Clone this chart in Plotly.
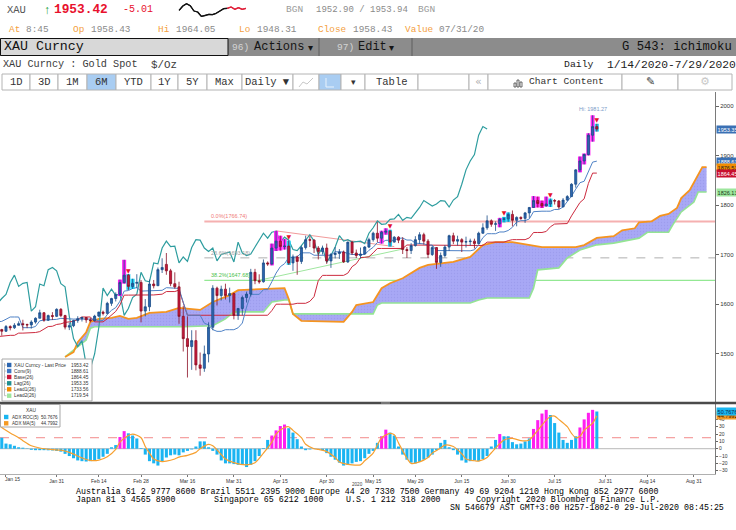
import plotly.graph_objects as go
import pandas as pd

W, H = 736, 530
MONO = "Liberation Mono, DejaVu Sans Mono, monospace"
SANS = "Liberation Sans, Arial, sans-serif"
DEJ = "DejaVu Sans, sans-serif"


def px(x):
    return x / W


def py(y):
    return 1 - y / H


# ---------------- DATA: XAU Curncy daily OHLC (Dec-09-2019 .. Jul-29-2020) ----------------
OHLC_START, OHLC_END = "2019-12-09", "2020-07-29"
open_ = [
    1460.5, 1462.4, 1464.5, 1474.9, 1469.9, 1475.9, 1476.3, 1475.9, 1474.6, 1478.9,
    1478.5, 1486.9, 1498.6, 1499.3, 1511.5, 1510.6, 1514.6, 1517.3, 1518.4, 1528.9,
    1552.4, 1566.2, 1574.3, 1556.2, 1553.3, 1562.3, 1548.4, 1545.0, 1554.4, 1552.0,
    1557.0, 1560.2, 1558.4, 1557.8, 1563.5, 1571.2, 1582.3, 1567.4, 1576.6, 1575.0,
    1589.2, 1576.6, 1553.3, 1556.1, 1566.6, 1570.3, 1572.7, 1568.0, 1566.4, 1575.5,
    1583.6, 1581.1, 1601.3, 1611.1, 1619.4, 1643.3, 1658.3, 1635.5, 1641.8, 1643.6,
    1585.7, 1594.4, 1640.4, 1636.9, 1669.4, 1680.0, 1667.0, 1641.0, 1634.6, 1575.0,
    1530.0, 1514.0, 1526.0, 1477.0, 1470.0, 1499.0, 1553.0, 1632.0, 1617.0, 1630.0,
    1617.0, 1621.0, 1577.0, 1591.0, 1613.0, 1620.0, 1664.0, 1647.0, 1645.0, 1683.0,
    1681.0, 1713.0, 1727.0, 1716.0, 1717.0, 1683.0, 1695.0, 1686.0, 1714.0, 1730.0,
    1729.0, 1713.0, 1706.0, 1713.0, 1687.0, 1700.0, 1702.0, 1705.0, 1685.0, 1725.0,
    1703.0, 1698.0, 1701.0, 1715.0, 1730.0, 1743.0, 1733.0, 1745.0, 1747.0, 1725.0,
    1735.0, 1729.0, 1710.0, 1708.0, 1718.0, 1730.0, 1740.0, 1727.0, 1700.0, 1714.0,
    1684.0, 1698.0, 1715.0, 1738.0, 1727.0, 1730.0, 1725.0, 1726.0, 1727.0, 1722.0,
    1743.0, 1754.0, 1768.0, 1761.0, 1762.0, 1771.0, 1772.0, 1781.0, 1769.0, 1775.0,
    1773.0, 1784.0, 1795.0, 1809.0, 1803.0, 1798.0, 1802.0, 1809.0, 1808.0, 1796.0,
    1810.0, 1817.0, 1842.0, 1871.0, 1889.0, 1902.0, 1941.0, 1958.43,
]
high = [
    1464.9, 1467.8, 1476.3, 1478.2, 1479.7, 1478.4, 1480.8, 1479.1, 1481.5, 1481.5,
    1488.0, 1499.4, 1500.6, 1513.2, 1514.9, 1516.3, 1523.3, 1519.7, 1530.6, 1553.4,
    1582.4, 1576.4, 1611.4, 1561.8, 1563.2, 1562.8, 1549.8, 1557.5, 1557.0, 1561.3,
    1565.0, 1568.2, 1560.4, 1567.1, 1573.1, 1588.4, 1583.5, 1578.6, 1583.5, 1591.3,
    1591.7, 1578.2, 1562.5, 1568.2, 1575.3, 1574.4, 1573.7, 1571.5, 1578.2, 1584.4,
    1586.6, 1604.4, 1612.5, 1623.5, 1649.3, 1689.3, 1660.5, 1651.0, 1660.2, 1648.4,
    1610.0, 1649.3, 1648.5, 1673.7, 1692.3, 1703.0, 1671.0, 1664.0, 1645.0, 1596.0,
    1575.0, 1547.0, 1547.0, 1502.0, 1516.0, 1563.0, 1638.0, 1635.0, 1637.0, 1641.0,
    1633.0, 1623.0, 1592.0, 1617.0, 1625.0, 1671.0, 1671.0, 1660.0, 1690.0, 1686.0,
    1722.0, 1747.7, 1738.0, 1731.0, 1728.0, 1700.0, 1698.0, 1718.0, 1738.0, 1737.0,
    1731.0, 1717.0, 1718.0, 1722.0, 1703.0, 1715.0, 1711.0, 1708.0, 1726.0, 1727.0,
    1710.0, 1714.0, 1717.0, 1734.0, 1746.0, 1765.4, 1748.0, 1753.0, 1750.0, 1737.0,
    1737.0, 1735.0, 1715.0, 1723.0, 1737.0, 1745.0, 1744.0, 1731.0, 1718.0, 1715.0,
    1704.0, 1719.0, 1740.0, 1744.0, 1738.0, 1733.0, 1736.0, 1732.0, 1732.0, 1746.0,
    1763.0, 1779.0, 1771.0, 1767.0, 1774.0, 1776.0, 1785.0, 1789.0, 1777.0, 1777.0,
    1786.0, 1796.0, 1818.0, 1817.0, 1809.0, 1817.0, 1813.0, 1812.0, 1810.0, 1814.0,
    1820.0, 1844.0, 1872.0, 1898.0, 1904.0, 1945.0, 1981.27, 1964.05,
]
low = [
    1456.9, 1459.4, 1460.5, 1462.7, 1462.0, 1472.4, 1473.1, 1472.1, 1470.9, 1473.4,
    1477.0, 1485.9, 1497.5, 1498.6, 1505.9, 1508.3, 1514.3, 1516.4, 1518.4, 1526.9,
    1551.8, 1557.3, 1553.7, 1540.1, 1549.4, 1545.1, 1536.1, 1543.6, 1546.7, 1549.6,
    1556.4, 1546.6, 1551.2, 1550.4, 1560.3, 1571.2, 1564.0, 1565.7, 1567.7, 1573.6,
    1573.6, 1548.6, 1547.3, 1553.1, 1562.0, 1564.6, 1562.0, 1562.8, 1565.0, 1573.4,
    1576.9, 1578.9, 1596.2, 1605.1, 1616.1, 1641.1, 1628.5, 1630.5, 1631.9, 1562.9,
    1575.0, 1585.4, 1631.5, 1636.4, 1662.6, 1659.0, 1636.0, 1631.0, 1560.0, 1504.0,
    1451.5, 1467.0, 1466.0, 1455.1, 1463.0, 1482.0, 1547.0, 1597.0, 1607.0, 1609.0,
    1603.0, 1569.0, 1568.0, 1577.0, 1603.0, 1615.0, 1640.0, 1641.0, 1643.0, 1677.0,
    1678.0, 1707.0, 1708.0, 1710.0, 1679.0, 1667.0, 1659.0, 1681.0, 1710.0, 1715.0,
    1703.0, 1690.0, 1700.0, 1681.0, 1673.0, 1692.0, 1691.0, 1683.0, 1683.0, 1699.0,
    1693.0, 1692.0, 1700.0, 1713.0, 1726.0, 1725.0, 1722.0, 1740.0, 1716.0, 1724.0,
    1723.0, 1701.0, 1693.0, 1701.0, 1716.0, 1722.0, 1720.0, 1693.0, 1697.0, 1670.99,
    1675.0, 1694.0, 1707.0, 1721.0, 1718.0, 1705.0, 1714.0, 1718.0, 1712.0, 1721.0,
    1742.0, 1750.0, 1756.0, 1747.63, 1755.0, 1765.0, 1766.0, 1757.0, 1757.0, 1770.0,
    1764.0, 1774.0, 1794.0, 1795.0, 1794.0, 1797.0, 1796.0, 1801.0, 1792.0, 1795.95,
    1808.0, 1816.0, 1835.0, 1866.0, 1882.0, 1900.0, 1928.0, 1948.31,
]
close = [
    1462.4, 1464.5, 1474.9, 1469.9, 1475.9, 1476.3, 1475.9, 1474.6, 1478.9, 1478.5,
    1486.9, 1498.6, 1499.3, 1511.5, 1510.6, 1514.6, 1517.3, 1518.4, 1528.9, 1552.4,
    1566.2, 1574.3, 1556.2, 1553.3, 1562.3, 1548.4, 1545.0, 1554.4, 1552.0, 1557.0,
    1560.2, 1558.4, 1557.8, 1563.5, 1571.2, 1582.3, 1567.4, 1576.6, 1575.0, 1589.2,
    1576.6, 1553.3, 1556.1, 1566.6, 1570.3, 1572.7, 1568.0, 1566.4, 1575.5, 1583.6,
    1581.1, 1601.3, 1611.1, 1619.4, 1643.3, 1658.3, 1635.5, 1641.8, 1643.6, 1585.7,
    1594.4, 1640.4, 1636.9, 1669.4, 1673.8, 1667.0, 1641.0, 1634.6, 1575.0, 1530.0,
    1514.0, 1526.0, 1477.0, 1470.0, 1499.0, 1553.0, 1632.0, 1617.0, 1630.0, 1617.0,
    1621.0, 1577.0, 1591.0, 1613.0, 1620.0, 1664.0, 1647.0, 1645.0, 1683.0, 1681.0,
    1713.0, 1727.0, 1716.0, 1717.0, 1683.0, 1695.0, 1686.0, 1714.0, 1730.0, 1729.0,
    1713.0, 1706.0, 1713.0, 1687.0, 1700.0, 1702.0, 1705.0, 1685.0, 1725.0, 1703.0,
    1698.0, 1701.0, 1715.0, 1730.0, 1743.0, 1733.0, 1745.0, 1747.0, 1725.0, 1735.0,
    1729.0, 1710.0, 1708.0, 1718.0, 1730.0, 1740.0, 1727.0, 1700.0, 1714.0, 1684.0,
    1698.0, 1715.0, 1738.0, 1727.0, 1730.0, 1725.0, 1726.0, 1727.0, 1722.0, 1743.0,
    1754.0, 1768.0, 1761.0, 1762.0, 1771.0, 1772.0, 1781.0, 1769.0, 1775.0, 1773.0,
    1784.0, 1795.0, 1809.0, 1803.0, 1798.0, 1802.0, 1809.0, 1808.0, 1796.0, 1810.0,
    1817.0, 1842.0, 1871.0, 1889.0, 1902.0, 1941.0, 1958.43, 1953.42,
]

# highlighted candles / sell marks
hl_magenta = ["2020-02-21", "2020-02-24", "2020-04-13", "2020-04-14", "2020-04-15", "2020-04-16",
              "2020-05-19", "2020-05-20", "2020-06-26", "2020-07-08", "2020-07-09", "2020-07-10",
              "2020-07-13", "2020-07-23", "2020-07-24", "2020-07-27", "2020-07-28"]
hl_cyan = ["2020-02-25", "2020-02-26", "2020-04-17", "2020-05-21", "2020-06-29", "2020-06-30",
           "2020-07-14", "2020-07-29"]
sell_marks = ["2020-02-25", "2020-04-17", "2020-05-21", "2020-06-29", "2020-07-14", "2020-07-29"]

# Ichimoku cloud (Lead1 / Lead2)
lead1_dates = ["2020-02-04", "2020-02-06", "2020-02-07", "2020-02-11", "2020-02-12", "2020-02-14",
               "2020-02-19", "2020-02-21", "2020-02-25", "2020-02-27", "2020-03-03", "2020-03-09",
               "2020-03-12", "2020-03-19", "2020-03-24", "2020-03-30", "2020-04-01", "2020-04-16",
               "2020-04-17", "2020-04-20", "2020-04-22", "2020-05-06", "2020-05-08", "2020-05-11",
               "2020-05-15", "2020-05-19", "2020-05-21", "2020-05-26", "2020-06-01", "2020-06-03",
               "2020-06-11", "2020-06-17", "2020-06-22", "2020-06-25", "2020-07-01", "2020-07-07",
               "2020-07-10", "2020-07-22", "2020-07-24", "2020-07-29", "2020-07-31", "2020-08-04",
               "2020-08-06", "2020-08-11", "2020-08-12", "2020-08-17", "2020-08-19", "2020-08-21",
               "2020-08-25", "2020-08-26", "2020-08-28", "2020-09-01", "2020-09-02", "2020-09-03"]
lead1_vals = [1493, 1503, 1523, 1543, 1564, 1570, 1572, 1576, 1570, 1572,
              1582, 1584, 1592, 1588, 1604, 1618, 1628, 1632, 1610, 1580,
              1566, 1564, 1584, 1598, 1604, 1632, 1642, 1652, 1673, 1679,
              1685, 1695, 1719, 1725, 1725, 1719, 1715, 1715, 1719, 1733.56,
              1735, 1737, 1749, 1753, 1765, 1767, 1778, 1782, 1794, 1814,
              1830, 1861, 1876.53, 1876.53]
lead2_dates = ["2020-02-04", "2020-02-06", "2020-02-11", "2020-02-12", "2020-02-13", "2020-03-13",
               "2020-03-24", "2020-03-27", "2020-03-31", "2020-04-09", "2020-04-13", "2020-04-16",
               "2020-04-17", "2020-04-20", "2020-05-15", "2020-05-18", "2020-05-19", "2020-06-17",
               "2020-06-19", "2020-06-23", "2020-07-07", "2020-07-08", "2020-07-09", "2020-07-16",
               "2020-07-20", "2020-07-23", "2020-07-29", "2020-08-04", "2020-08-12", "2020-08-14",
               "2020-08-21", "2020-08-24", "2020-08-26", "2020-08-31", "2020-09-01", "2020-09-03"]
lead2_vals = [1493, 1507, 1527, 1551, 1554, 1554, 1556, 1570, 1584, 1584,
              1604, 1608, 1608, 1580, 1580, 1598, 1602, 1602, 1608, 1612,
              1612, 1632, 1669, 1673, 1693, 1709, 1719.54, 1723, 1733, 1745,
              1745, 1760, 1786, 1806, 1826.13, 1826.13]

# Fibonacci retracement and trend lines
fib_start = "2020-03-20"
fib_levels = [1766.74, 1693.18, 1647.68]
fib_labels = ["0.0%(1766.74)", "23.6%(1693.18)", "38.2%(1647.68)"]
trend_red_dates = ["2020-04-14", "2020-05-22"]
trend_red_vals = [1747.7, 1716.0]
trend_green_dates = ["2020-04-08", "2020-05-26"]
trend_green_vals = [1648.0, 1711.0]

# lower panel: ADX ROC(5) bars (Jan-14 .. Jul-29) and ADX MA(5)
ROC_START = "2020-01-14"
roc = [
    15, 7, 6, 4, 2, 1.4, 0.5, -1.5, -2, -2,
    -2, -2.2, -2.4, -3, -4, -7, -10, -13, -16, -17,
    -17.5, -17, -16, -14, -11, -7, 2, 5, 16, 24,
    21, 18, 14, 1, -8, -17, -20, -23, -17, -12,
    -9, -8, -9, -5, -3, -1, 3, 10, 10, 2,
    -3, -8, -16, -20, -20, -21, -22, -22, -25, -22,
    -17, -10, 1, 12, 18, 25, 31, 33, 28, 22,
    13, 3, -2, -1, 0.5, 0, -2, -6, -11, -15,
    -19, -23, -22, -20, -18, -17, -13, -7, -3, 8,
    17, 26, 22, 18, 3, -8, -15, -19, -20, -18,
    -15, -12, -8, -2, 8, 12, 2, -2, -8, -16,
    -19, -17, -16, -17, -14, -10, 3, 12, 20, 17,
    17, 9, 6, 7, 10, 14, 27, 39, 48, 53,
    46, 35, 22, 12, 8, 12, 17, 29, 40, 49,
    53, 50.7676,
]
roc_magenta = hl_magenta
roc_threshold = 15
ma_dates = ["2020-01-13", "2020-01-14", "2020-01-16", "2020-01-20", "2020-01-21", "2020-01-23",
            "2020-01-27", "2020-01-30", "2020-02-03", "2020-02-05", "2020-02-10", "2020-02-12",
            "2020-02-14", "2020-02-18", "2020-02-20", "2020-02-21", "2020-02-25", "2020-02-26",
            "2020-02-28", "2020-03-02", "2020-03-03", "2020-03-04", "2020-03-06", "2020-03-09",
            "2020-03-11", "2020-03-12", "2020-03-16", "2020-03-18", "2020-03-19", "2020-03-23",
            "2020-03-24", "2020-03-26", "2020-03-27", "2020-03-31", "2020-04-03", "2020-04-07",
            "2020-04-09", "2020-04-13", "2020-04-14", "2020-04-16", "2020-04-17", "2020-04-20",
            "2020-04-22", "2020-04-23", "2020-04-27", "2020-04-28", "2020-04-30", "2020-05-04",
            "2020-05-05", "2020-05-08", "2020-05-12", "2020-05-13", "2020-05-15", "2020-05-18",
            "2020-05-19", "2020-05-21", "2020-05-22", "2020-05-25", "2020-05-27", "2020-05-28",
            "2020-06-01", "2020-06-03", "2020-06-04", "2020-06-08", "2020-06-09", "2020-06-11",
            "2020-06-15", "2020-06-16", "2020-06-18", "2020-06-19", "2020-06-23", "2020-06-24",
            "2020-06-26", "2020-06-29", "2020-07-01", "2020-07-02", "2020-07-03", "2020-07-07",
            "2020-07-08", "2020-07-09", "2020-07-13", "2020-07-14", "2020-07-15", "2020-07-16",
            "2020-07-20", "2020-07-21", "2020-07-22", "2020-07-23", "2020-07-24", "2020-07-28",
            "2020-07-29"]
ma_vals = [34, 29, 21.5, 15, 11, 4, 1, -1.2, -2, -5,
           -12.5, -16, -15.5, -11, -1, 9, 18, 20, 15, 3,
           -6, -14, -17.5, -17, -14, -11.5, -9, -5, 0, 6,
           4, -8, -14, -19, -22, -19, -6, 9, 20, 29,
           30, 25, 15, 6, 0, -1, -4, -12, -18, -22,
           -22, -16.5, -6, 5, 15, 21, 19, 8, -13, -20,
           -18, -12, -6, 1, 5, 3, -7, -14, -16.4, -17,
           -12, -5.5, 7, 12, 14, 12.7, 11, 12, 18, 25,
           39, 44, 44.5, 40, 30, 21, 15, 17, 25, 35,
           44.7992]

# header intraday sparkline (relative price levels, black = earlier, red = latest)
spark_black = [-28, -15, -8, -14, -30, -33, -46, -44, -40, -41, -37, -30, -23, -22]
spark_red = [-22, -18, -25, -20, -25, -22]

# axis ticks
xtick_dates = ["2020-01-15", "2020-01-31", "2020-02-14", "2020-02-28", "2020-03-16", "2020-03-31",
               "2020-04-15", "2020-04-30", "2020-05-15", "2020-05-29", "2020-06-15", "2020-06-30",
               "2020-07-15", "2020-07-31", "2020-08-14", "2020-08-31"]
xtick_text = ["Jan 15", "Jan 31", "Feb 14", "Feb 28", "Mar 16", "Mar 31", "Apr 15", "Apr 30",
              "May 15", "May 29", "Jun 15", "Jun 30", "Jul 15", "Jul 31", "Aug 14", "Aug 31"]
price_ticks = [1500, 1600, 1700, 1800, 1900, 2000]
roc_ticks = [-30, -20, -10, 0, 10, 20, 30, 40]

legend_names = ["XAU Curncy - Last Price", "Conv(9)", "Base(26)", "Lag(26)", "Lead1(26)", "Lead2(26)"]
legend_values = [1953.42, 1888.61, 1864.45, 1953.35, 1733.56, 1719.54]
lower_names = ["ADX ROC(5)", "ADX MA(5)"]
lower_values = [50.7676, 44.7992]

# ---------------- derived positions ----------------
axis_days = pd.bdate_range("2019-12-09", "2020-09-30").strftime("%Y-%m-%d").tolist()
pos = {d: i for i, d in enumerate(axis_days)}


def P(ds):
    return [pos[d] for d in ds]


ohlc_dates = pd.bdate_range(OHLC_START, OHLC_END).strftime("%Y-%m-%d").tolist()
assert len(ohlc_dates) == len(open_) == len(high) == len(low) == len(close)
ox = P(ohlc_dates)
oidx = {d: i for i, d in enumerate(ohlc_dates)}

s_hi, s_lo = pd.Series(high), pd.Series(low)
conv = ((s_hi.rolling(9).max() + s_lo.rolling(9).min()) / 2).tolist()
base = ((s_hi.rolling(26).max() + s_lo.rolling(26).min()) / 2).tolist()
lag_x, lag_y = ox[:-26], close[26:]

roc_dates = pd.bdate_range(ROC_START, OHLC_END).strftime("%Y-%m-%d").tolist()
assert len(roc_dates) == len(roc)
assert len(ma_dates) == len(ma_vals)
roc_colors = ["#ff1ef0" if d in roc_magenta else "#1ab4f2" for d in roc_dates]

XL = pos["2020-01-15"] - 1.42
XR = pos["2020-09-04"] + 1.0
YR = [1402, 2028.3]
Y2R = [-34.5, 61]

fig = go.Figure()

# ---- cloud ----
fig.add_trace(go.Scatter(x=P(lead2_dates), y=lead2_vals, mode="lines",
                         line=dict(color="#94e494", width=1.6), xaxis="x", yaxis="y"))
fig.add_trace(go.Scatter(x=P(lead1_dates), y=lead1_vals, mode="lines",
                         line=dict(color="#f5941f", width=1.8), fill="tonexty",
                         fillcolor="#a4a4f4",
                         fillpattern=dict(shape=".", bgcolor="#a8a8f5", fgcolor="#9292e6",
                                          size=3, solidity=0.2),
                         xaxis="x", yaxis="y"))
# ---- trend lines ----
fig.add_trace(go.Scatter(x=P(trend_red_dates), y=trend_red_vals, mode="lines",
                         line=dict(color="#f29a9a", width=1), xaxis="x", yaxis="y"))
fig.add_trace(go.Scatter(x=P(trend_green_dates), y=trend_green_vals, mode="lines",
                         line=dict(color="#9fe69f", width=1), xaxis="x", yaxis="y"))
# ---- ichimoku lines ----
fig.add_trace(go.Scatter(x=lag_x, y=lag_y, mode="lines",
                         line=dict(color="#2e9d9f", width=1.2), xaxis="x", yaxis="y"))
fig.add_trace(go.Scatter(x=ox, y=base, mode="lines",
                         line=dict(color="#cc2a3e", width=1), xaxis="x", yaxis="y"))
fig.add_trace(go.Scatter(x=ox, y=conv, mode="lines",
                         line=dict(color="#4f82c6", width=1), xaxis="x", yaxis="y"))

# ---- candles with highlight boxes (overlay axis so they sit above the cloud) ----
fig.add_trace(go.Bar(x=P(hl_magenta), base=[low[oidx[d]] for d in hl_magenta],
                     y=[high[oidx[d]] - low[oidx[d]] for d in hl_magenta], width=0.95,
                     marker=dict(color="#ff20f2", line=dict(width=0)), xaxis="x", yaxis="y4"))
fig.add_trace(go.Bar(x=P(hl_cyan), base=[low[oidx[d]] for d in hl_cyan],
                     y=[high[oidx[d]] - low[oidx[d]] for d in hl_cyan], width=0.95,
                     marker=dict(color="#22d2f6", line=dict(width=0)), xaxis="x", yaxis="y4"))
fig.add_trace(go.Candlestick(x=ox, open=open_, high=high, low=low, close=close,
                             increasing=dict(line=dict(color="#1b4c88", width=0.8), fillcolor="#2c66b0"),
                             decreasing=dict(line=dict(color="#8c0f25", width=0.8), fillcolor="#c9193b"),
                             whiskerwidth=0, xaxis="x", yaxis="y4"))
fig.add_trace(go.Scatter(x=P(sell_marks), y=[high[oidx[d]] for d in sell_marks], mode="text",
                         text=["▼"] * len(sell_marks), textposition="top center",
                         textfont=dict(family=DEJ, size=6, color="#e4122c"), xaxis="x", yaxis="y4"))

# ---- lower panel ----
fig.add_trace(go.Bar(x=P(roc_dates), y=roc, width=0.72, marker=dict(color=roc_colors, line=dict(width=0)),
                     xaxis="x2", yaxis="y2"))
fig.add_trace(go.Scatter(x=P(ma_dates), y=ma_vals, mode="lines", line=dict(color="#f6a030", width=1.2,
                                                                            shape="spline", smoothing=0.8),
                         xaxis="x2", yaxis="y2"))

# ---- header sparkline (own small inset axes) ----
spark_x_black = list(range(len(spark_black)))
spark_x_red = list(range(len(spark_black) - 1, len(spark_black) - 1 + len(spark_red)))
fig.add_trace(go.Scatter(x=spark_x_black, y=spark_black, mode="lines", cliponaxis=False,
                         line=dict(color="#111111", width=1.2), xaxis="x3", yaxis="y3"))
fig.add_trace(go.Scatter(x=spark_x_red, y=spark_red, mode="lines", cliponaxis=False,
                         line=dict(color="#e0203a", width=1.2), xaxis="x3", yaxis="y3"))

shapes = []
ann = []


def rect(x0, y0, x1, y1, fill, line=None, lw=1, layer="above"):
    shapes.append(dict(type="rect", xref="paper", yref="paper", x0=px(x0), x1=px(x1), y0=py(y0), y1=py(y1),
                       fillcolor=fill, line=dict(color=line or fill, width=lw if line else 0), layer=layer))


def hline(x0, x1, y, color, w=1):
    shapes.append(dict(type="line", xref="paper", yref="paper", x0=px(x0), x1=px(x1), y0=py(y), y1=py(y),
                       line=dict(color=color, width=w)))


def vline(x, y0, y1, color, w=1):
    shapes.append(dict(type="line", xref="paper", yref="paper", x0=px(x), x1=px(x), y0=py(y0), y1=py(y1),
                       line=dict(color=color, width=w)))


def txt(x, y, s, size, color, anchor="left", family=MONO):
    ann.append(dict(xref="paper", yref="paper", x=px(x), y=py(y), text=s, showarrow=False,
                    xanchor=anchor, yanchor="middle", font=dict(family=family, size=size, color=color),
                    borderpad=0))


# sparkline also as line shapes on the inset axes
for xs, ys, col in [(spark_x_black, spark_black, "#111111"), (spark_x_red, spark_red, "#e0203a")]:
    for i in range(len(xs) - 1):
        shapes.append(dict(type="line", xref="x3", yref="y3", x0=xs[i], x1=xs[i + 1], y0=ys[i], y1=ys[i + 1],
                           line=dict(color=col, width=1.2)))

# ---- header rows ----
txt(6, 10, "XAU", 10.5, "#555")
txt(43, 10, "↑", 12, "#1aa040", family=SANS)
txt(53, 10, "<b>1953.42</b>", 12.8, "#e8112d")
txt(122, 10, "-5.01", 10, "#e8112d")
txt(285, 10, "BGN", 9.5, "#9a9a9a")
txt(315, 10, "1952.90 / 1953.94", 9, "#8a8a8a")
txt(417, 10, "BGN", 9.5, "#9a9a9a")
for lab, x in [("At", 8), ("Op", 72), ("Hi", 157), ("Lo", 238), ("Close", 317), ("Value", 404)]:
    txt(x, 30, lab, 9.4, "#f4a040")
for val, x in [("8:45", 25), ("1958.43", 90), ("1964.05", 175), ("1948.31", 256), ("1958.43", 352),
               ("07/31/20", 438)]:
    txt(x, 30, val, 9.4, "#8a8a8a")

rect(0, 38, 736, 56, "#8c8c8c")
rect(0.5, 38.5, 228, 55.5, "#d8d8d8", line="#111", lw=1)
vline(319, 38, 56, "#5e5e5e")
vline(412, 38, 56, "#5e5e5e")
txt(3, 47, "XAU Curncy", 13.3, "#111")
txt(231, 47.5, "96)", 9.5, "#d4d4d4")
txt(253, 47, "Actions", 12, "#151515")
txt(307, 47.5, "▾", 10, "#151515", family=DEJ)
txt(336, 47.5, "97)", 9.5, "#d4d4d4")
txt(357, 47, "Edit", 12, "#151515")
txt(388, 47.5, "▾", 10, "#151515", family=DEJ)
txt(733, 47, "G 543: ichimoku", 12.2, "#111", anchor="right")

txt(2, 65, "XAU Curncy : Gold Spot", 10.2, "#3a3a3a")
txt(150, 65, "$/Oz", 10.8, "#3a3a3a")
txt(563, 65, "Daily", 9.8, "#222")
txt(606, 65, "1/14/2020-7/29/2020", 11.3, "#222")

# toolbar
tb_edges = [2, 30, 58, 87, 116, 151, 178, 207, 242, 293, 319, 341, 365, 418, 469, 488, 622, 678, 732]
tb_labels = ["1D", "3D", "1M", "6M", "YTD", "1Y", "5Y", "Max", "Daily ▼", "", "", "▾", "Table", "", "«",
             "Chart Content", "", ""]
tb_selected = {3, 10}
for i, lab in enumerate(tb_labels):
    x0, x1 = tb_edges[i], tb_edges[i + 1]
    rect(x0, 74, x1, 90, "#a9cdf2" if i in tb_selected else "#ffffff", line="#b4b4b4", lw=1)
    if lab:
        c = (x0 + x1) / 2
        if lab == "Chart Content":
            txt(528, 82, lab, 9.6, "#333")
        elif lab == "«":
            txt(c, 82, lab, 11, "#b0b0b0", anchor="center", family=DEJ)
        elif lab == "▾":
            txt(c, 82, lab, 9, "#333", anchor="center", family=DEJ)
        else:
            txt(c, 82, lab, 10.5, "#333", anchor="center")
# toolbar icons
shapes.append(dict(type="path", xref="paper", yref="paper",
                   path=f"M {px(299)} {py(87)} L {px(303)} {py(82)} L {px(307)} {py(84)} L {px(313)} {py(78)}",
                   line=dict(color="#c8c8c8", width=1)))
shapes.append(dict(type="path", xref="paper", yref="paper",
                   path=f"M {px(326)} {py(87)} L {px(326)} {py(78)} M {px(326)} {py(87)} L {px(334)} {py(87)}",
                   line=dict(color="#e8f2fc", width=1)))
for bx, bh in [(514, 4), (517, 7), (520, 5)]:
    rect(bx, 87 - bh, bx + 2, 87, "#ffffff", line="#444", lw=0.8)
txt(650, 82, "✎", 11, "#444", anchor="center", family=DEJ)
txt(705, 82, "⚙", 11, "#c8c8c8", anchor="center", family=DEJ)

# ---- panel separator & lower-panel reference lines ----
rect(0, 401.8, 736, 404.2, "#4a4a4a")
rect(381, 402.3, 390, 403.7, "#8a8a8a")
shapes.append(dict(type="line", xref="x2 domain", yref="y2", x0=0, x1=1, y0=0, y1=0,
                   line=dict(color="#b8b8b8", width=1), layer="below"))
shapes.append(dict(type="line", xref="x2 domain", yref="y2", x0=0, x1=1, y0=roc_threshold, y1=roc_threshold,
                   line=dict(color="#f28a8a", width=1, dash="dash"), layer="below"))

# ---- fibonacci lines ----
fib_styles = [dict(color="#f5b0b0", width=2), dict(color="#b0b0b0", width=1, dash="dash"),
              dict(color="#93e893", width=1.2)]
fib_text_colors = ["#f07a7a", "#a0a0a0", "#4cbf4c"]
for lvl, lab, st, tc in zip(fib_levels, fib_labels, fib_styles, fib_text_colors):
    shapes.append(dict(type="line", xref="x", yref="y", x0=pos[fib_start], x1=XR, y0=lvl, y1=lvl,
                       line=st, layer="below"))
    ann.append(dict(xref="x", yref="y", x=pos[fib_start] + 1, y=lvl, text=lab, showarrow=False,
                    xanchor="left", yanchor="bottom", font=dict(family=SANS, size=5.5, color=tc)))

# ---- high annotation ----
imax = max(range(len(high)), key=lambda i: high[i])
ann.append(dict(xref="x", yref="y", x=ox[imax], y=high[imax], text=f"Hi: {high[imax]:.2f}", showarrow=False,
                xanchor="center", yanchor="bottom", yshift=1,
                font=dict(family=SANS, size=5.5, color="#7c9cc8")))

# ---- right-side value tags ----
tags = [(legend_values[3], "#3a70b4", "#ffffff"), (conv[-1], "#3a70b4", "#ffffff"),
        (lead1_vals[-1], "#f28c00", "#222222"), (base[-1], "#c8102e", "#ffffff"),
        (lead2_vals[-1], "#9de69d", "#1a3a1a")]
for v, bg, fc in tags:
    ann.append(dict(xref="paper", yref="y", x=px(715.5), y=v, text=f"{v:.2f}", showarrow=False,
                    xanchor="left", yanchor="middle", bgcolor=bg, borderpad=0.6,
                    font=dict(family=SANS, size=5.5, color=fc)))
for v, bg, fc in [(ma_vals[-1], "#f59a23", "#3a2000"), (roc[-1], "#19b5f0", "#0a2a50")]:
    ann.append(dict(xref="paper", yref="y2", x=px(715.5), y=v, text=f"{v:.4f}", showarrow=False,
                    xanchor="left", yanchor="middle", bgcolor=bg, borderpad=0.6,
                    font=dict(family=SANS, size=5.5, color=fc)))

# ---- main legend ----
rect(2, 359, 92, 401, "#ffffff", line="#a8a8a8", lw=1)
leg_colors = ["#2c66b0", "#3f78c4", "#c8173a", "#1f8f90", "#f28c00", "#9de69d"]
rows = [365, 371, 377, 383.3, 389.3, 395.7]
vline(4.5, 363, rows[-1], "#b0b0b0", 0.8)
for nm, val, col, ry in zip(legend_names, legend_values, leg_colors, rows):
    hline(4.5, 6.5, ry, "#b0b0b0", 0.8)
    rect(7, ry - 2.2, 11.4, ry + 2.2, col)
    txt(13, ry, nm, 4.8, "#333", family=SANS)
    txt(89.5, ry, f"{val:.2f}", 4.8, "#333", anchor="right", family=SANS)

# ---- lower legend ----
rect(0.5, 404.5, 60, 427, "#ffffff", line="#a8a8a8", lw=1)
txt(31, 410.7, "XAU", 4.8, "#333", anchor="center", family=SANS)
for nm, val, col, ry in zip(lower_names, lower_values, ["#19b5f0", "#f59a23"], [417, 423.3]):
    rect(4, ry - 2.2, 8.4, ry + 2.2, col)
    txt(10.5, ry, nm, 4.6, "#333", family=SANS)
    txt(58.5, ry, f"{val:.4f}", 4.6, "#333", anchor="right", family=SANS)

# ---- x label extras ----
txt(12, 478.5, xtick_text[0], 5, "#333", anchor="center", family=SANS)
txt(357, 484.5, "2020", 4.6, "#444", anchor="center", family=SANS)

# ---- footer ----
FS = 8.3
txt(75, 491, "Australia 61 2 9777 8600 Brazil 5511 2395 9000 Europe 44 20 7330 7500 Germany 49 69 9204 1210 Hong Kong 852 2977 6000", FS, "#000")
txt(75, 499, "Japan 81 3 4565 8900", FS, "#000")
txt(213, 499, "Singapore 65 6212 1000", FS, "#000")
txt(345, 499, "U.S. 1 212 318 2000", FS, "#000")
txt(475, 499, "Copyright 2020 Bloomberg Finance L.P.", FS, "#000")
txt(449, 507, "SN 546679 AST GMT+3:00 H257-1802-0 29-Jul-2020 08:45:25", FS, "#000")

fig.update_layout(
    width=W, height=H, margin=dict(l=0, r=0, t=0, b=0), autosize=False,
    paper_bgcolor="#ffffff", plot_bgcolor="rgba(0,0,0,0)", showlegend=False, barmode="overlay",
    shapes=shapes, annotations=ann, hovermode=False,
    xaxis=dict(domain=[0, px(715)], range=[XL, XR], anchor="y", showticklabels=False, showgrid=False,
               zeroline=False, showline=False, ticks="", rangeslider=dict(visible=False), fixedrange=True),
    yaxis=dict(domain=[py(402), py(92)], range=YR, anchor="x", side="right", tickvals=price_ticks,
               ticks="outside", ticklen=3, tickcolor="#666", showline=True, linecolor="#7a7a7a", linewidth=1,
               showgrid=False, zeroline=False, tickfont=dict(family=SANS, size=6, color="#333")),
    yaxis4=dict(overlaying="y", range=YR, anchor="x", side="right", visible=False, showgrid=False,
                zeroline=False),
    xaxis2=dict(domain=[0, px(715)], range=[XL, XR], anchor="y2", matches="x", tickvals=P(xtick_dates),
                ticktext=[""] + xtick_text[1:], ticks="outside", ticklen=2, tickcolor="#777", showline=True,
                linecolor="#b0b0b0", showgrid=False, zeroline=False,
                tickfont=dict(family=SANS, size=5, color="#333")),
    yaxis2=dict(domain=[py(474), py(404)], range=Y2R, anchor="x2", side="right", tickvals=roc_ticks,
                ticks="outside", ticklen=2, tickcolor="#666", showline=True, linecolor="#7a7a7a",
                showgrid=False, zeroline=False, tickfont=dict(family=SANS, size=5, color="#333")),
    xaxis3=dict(domain=[px(178), px(247)], range=[-0.3, spark_x_red[-1] + 0.3], anchor="y3",
                showticklabels=False, showgrid=False, zeroline=False, showline=False, ticks=""),
    yaxis3=dict(domain=[py(17), py(3)], range=[-48, -6], anchor="x3",
                showticklabels=False, showgrid=False, zeroline=False, showline=False, ticks=""),
)

fig.write_html("out.html", config={"displayModeBar": False, "staticPlot": True},
               post_script="document.body.style.margin='0';document.body.style.overflow='hidden';")
